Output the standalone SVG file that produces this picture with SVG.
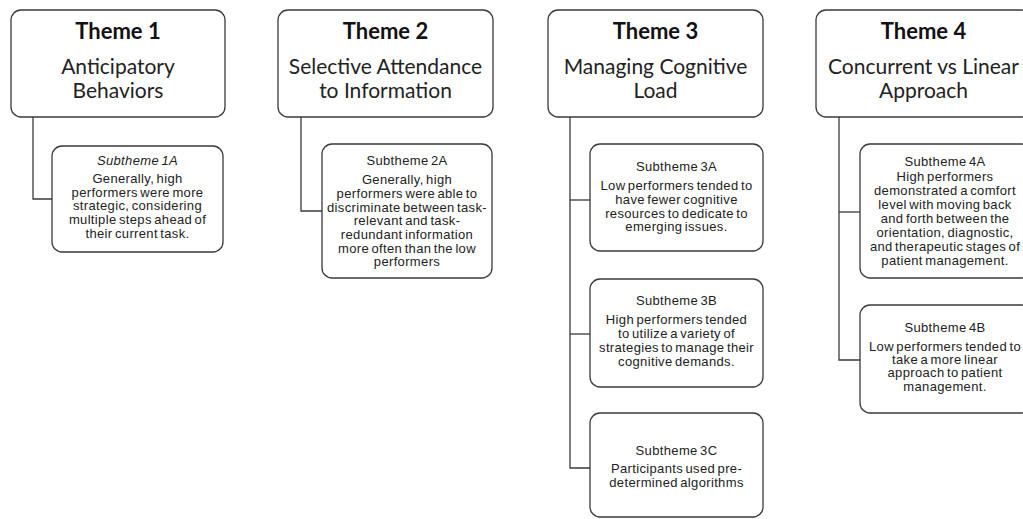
<svg xmlns="http://www.w3.org/2000/svg" width="1023" height="519" viewBox="0 0 1023 519">
<style>
.box{fill:#fff;stroke:#3a3a3a;stroke-width:1.3}
.conn{fill:none;stroke:#3a3a3a;stroke-width:1.3}
.t{font-family:Lato,"Open Sans",sans-serif;font-weight:bold;font-size:22px;fill:#111;text-anchor:middle}
.s{font-family:Lato,"Open Sans",sans-serif;font-size:21px;fill:#222;text-anchor:middle}
.b{font-family:"Liberation Sans",Arial,sans-serif;font-size:13px;fill:#222;text-anchor:middle;letter-spacing:0.35px;word-spacing:-1.5px}
</style>
<rect width="1023" height="519" fill="#fff"/>
<g id="connectors">
<polyline class="conn" points="33,117 33,199 52,199"/>
<polyline class="conn" points="301,117 301,211 322,211"/>
<polyline class="conn" points="570,117 570,468 590,468"/>
<line class="conn" x1="570" y1="200" x2="590" y2="200"/>
<line class="conn" x1="570" y1="334" x2="590" y2="334"/>
<polyline class="conn" points="839,117 839,360 860,360"/>
<line class="conn" x1="839" y1="212" x2="860" y2="212"/>
</g>
<g id="theme1">
<rect class="box" x="11" y="10" width="214" height="107" rx="10"/>
<text class="t" x="118" y="39">Theme 1</text>
<text class="s" x="118" y="74">Anticipatory</text>
<text class="s" x="118" y="98">Behaviors</text>
</g>
<g id="sub1A">
<rect class="box" x="52" y="146" width="171" height="106" rx="10"/>
<text class="b" x="137.5" y="165" font-style="italic">Subtheme 1A</text>
<text class="b" x="137.5" y="183">Generally, high</text>
<text class="b" x="137.5" y="197">performers were more</text>
<text class="b" x="137.5" y="210">strategic, considering</text>
<text class="b" x="137.5" y="224">multiple steps ahead of</text>
<text class="b" x="137.5" y="238">their current task.</text>
</g>
<g id="theme2">
<rect class="box" x="278" y="10" width="215" height="107" rx="10"/>
<text class="t" x="385.5" y="39">Theme 2</text>
<text class="s" x="385.5" y="74">Selective Attendance</text>
<text class="s" x="385.5" y="98">to Information</text>
</g>
<g id="sub2A">
<rect class="box" x="322" y="144" width="170" height="134" rx="10"/>
<text class="b" x="407" y="165">Subtheme 2A</text>
<text class="b" x="407" y="184">Generally, high</text>
<text class="b" x="407" y="198">performers were able to</text>
<text class="b" x="407" y="212">discriminate between task-</text>
<text class="b" x="407" y="225">relevant and task-</text>
<text class="b" x="407" y="239">redundant information</text>
<text class="b" x="407" y="253">more often than the low</text>
<text class="b" x="407" y="266">performers</text>
</g>
<g id="theme3">
<rect class="box" x="548" y="10" width="215" height="107" rx="10"/>
<text class="t" x="655.5" y="39">Theme 3</text>
<text class="s" x="655.5" y="74">Managing Cognitive</text>
<text class="s" x="655.5" y="98">Load</text>
</g>
<g id="sub3A">
<rect class="box" x="590" y="144" width="173" height="107" rx="10"/>
<text class="b" x="676.5" y="171">Subtheme 3A</text>
<text class="b" x="676.5" y="190">Low performers tended to</text>
<text class="b" x="676.5" y="204">have fewer cognitive</text>
<text class="b" x="676.5" y="218">resources to dedicate to</text>
<text class="b" x="676.5" y="231">emerging issues.</text>
</g>
<g id="sub3B">
<rect class="box" x="590" y="279" width="173" height="108" rx="10"/>
<text class="b" x="676.5" y="305">Subtheme 3B</text>
<text class="b" x="676.5" y="324">High performers tended</text>
<text class="b" x="676.5" y="338">to utilize a variety of</text>
<text class="b" x="676.5" y="352">strategies to manage their</text>
<text class="b" x="676.5" y="366">cognitive demands.</text>
</g>
<g id="sub3C">
<rect class="box" x="590" y="413" width="173" height="104" rx="10"/>
<text class="b" x="676.5" y="455">Subtheme 3C</text>
<text class="b" x="676.5" y="473">Participants used pre-</text>
<text class="b" x="676.5" y="487">determined algorithms</text>
</g>
<g id="theme4">
<rect class="box" x="816" y="10" width="215" height="107" rx="10"/>
<text class="t" x="923.5" y="39">Theme 4</text>
<text class="s" x="923.5" y="74">Concurrent vs Linear</text>
<text class="s" x="923.5" y="98">Approach</text>
</g>
<g id="sub4A">
<rect class="box" x="860" y="144" width="172" height="134" rx="10"/>
<text class="b" x="945" y="166">Subtheme 4A</text>
<text class="b" x="945" y="181">High performers</text>
<text class="b" x="945" y="195">demonstrated a comfort</text>
<text class="b" x="945" y="209">level with moving back</text>
<text class="b" x="945" y="223">and forth between the</text>
<text class="b" x="945" y="237">orientation, diagnostic,</text>
<text class="b" x="945" y="251">and therapeutic stages of</text>
<text class="b" x="945" y="265">patient management.</text>
</g>
<g id="sub4B">
<rect class="box" x="860" y="305" width="172" height="108" rx="10"/>
<text class="b" x="945" y="332">Subtheme 4B</text>
<text class="b" x="945" y="351">Low performers tended to</text>
<text class="b" x="945" y="364">take a more linear</text>
<text class="b" x="945" y="377">approach to patient</text>
<text class="b" x="945" y="391">management.</text>
</g>
</svg>
